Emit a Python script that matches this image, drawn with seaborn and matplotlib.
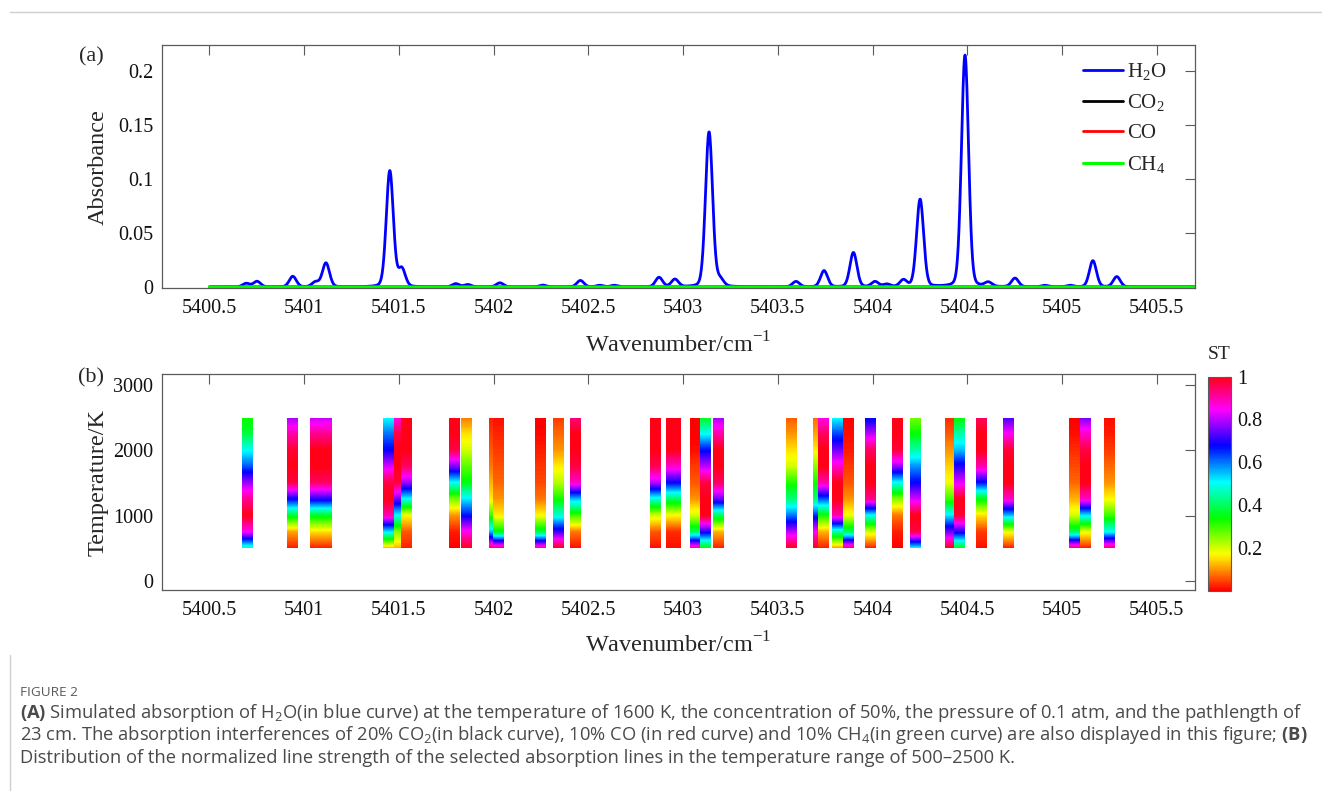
import numpy as np
import matplotlib
matplotlib.use("Agg")
import matplotlib.pyplot as plt
import seaborn as sns
from matplotlib.patches import Rectangle
from matplotlib.lines import Line2D
from matplotlib.cm import ScalarMappable
from matplotlib.colors import Normalize

# ---------------- panel (a): simulated absorbance ----------------
spectrum_start = 5400.5
spectrum_stop = 5405.75

h2o_line_centers = [5400.694, 5400.751, 5400.940, 5401.060, 5401.115, 5401.452, 5401.515,
                    5401.800, 5401.864, 5402.033, 5402.260, 5402.458, 5402.560, 5402.637,
                    5402.873, 5402.957, 5403.137, 5403.195, 5403.596, 5403.744, 5403.899,
                    5404.013, 5404.075, 5404.163, 5404.251, 5404.488, 5404.611, 5404.752,
                    5404.910, 5405.043, 5405.163, 5405.289]
h2o_peak_absorbance = [0.0033, 0.0052, 0.0098, 0.0045, 0.0222, 0.1075, 0.0165,
                       0.0030, 0.0022, 0.0038, 0.0017, 0.0060, 0.0015, 0.0015,
                       0.0088, 0.0070, 0.1435, 0.0065, 0.0050, 0.0150, 0.0318,
                       0.0048, 0.0024, 0.0062, 0.0810, 0.2145, 0.0038, 0.0080,
                       0.0014, 0.0014, 0.0243, 0.0095]
co2_line_centers, co2_peak_absorbance = [], []
co_line_centers, co_peak_absorbance = [], []
ch4_line_centers, ch4_peak_absorbance = [], []

species_labels = [r"$\mathregular{H_2O}$", r"$\mathregular{CO_2}$", "CO", r"$\mathregular{CH_4}$"]
species_colors = ["#0000ff", "#000000", "#ff0000", "#00ff00"]

# ---------------- panel (b): normalized line strength ----------------
st_line_centers = [5400.700, 5400.936, 5401.059, 5401.116, 5401.445, 5401.504, 5401.542,
                   5401.794, 5401.855, 5402.005, 5402.028, 5402.245, 5402.343, 5402.434,
                   5402.856, 5402.937, 5402.961, 5403.064, 5403.117, 5403.188, 5403.571,
                   5403.716, 5403.739, 5403.815, 5403.874, 5403.989, 5404.134, 5404.225,
                   5404.413, 5404.459, 5404.575, 5404.719, 5405.068, 5405.125, 5405.252]
temperature_nodes = [500, 750, 1000, 1250, 1500, 1750, 2000, 2250, 2500]
st_500 = [0.45, 0.02, 0.02, 0.02, 0.12, 0.12, 0.02, 0.00, 1.00, 0.95, 0.95, 0.92, 1.00, 0.01,
          0.01, 0.01, 0.01, 0.92, 0.33, 0.02, 1.00, 1.00, 0.02, 0.10, 0.95, 0.02, 0.00, 0.50,
          1.00, 0.35, 0.01, 0.02, 0.95, 0.02, 0.95]
st_750 = [0.85, 0.11, 0.15, 0.15, 0.52, 0.25, 0.06, 0.02, 0.86, 0.55, 0.35, 0.38, 0.72, 0.08,
          0.06, 0.03, 0.03, 0.40, 0.70, 0.12, 0.80, 0.85, 0.12, 0.45, 0.40, 0.20, 0.02, 0.97,
          0.75, 0.70, 0.04, 0.18, 0.40, 0.18, 0.50]
st_1000 = [1.00, 0.37, 0.36, 0.36, 0.90, 0.50, 0.17, 0.10, 0.67, 0.30, 0.16, 0.17, 0.48, 0.30,
           0.20, 0.17, 0.17, 0.20, 1.00, 0.40, 0.60, 0.65, 0.33, 0.90, 0.18, 0.50, 0.08, 1.00,
           0.52, 0.98, 0.15, 0.55, 0.20, 0.52, 0.30]
st_1250 = [0.92, 0.68, 0.70, 0.70, 1.00, 0.75, 0.50, 0.26, 0.52, 0.16, 0.10, 0.08, 0.33, 0.55,
           0.48, 0.40, 0.40, 0.10, 1.00, 0.75, 0.42, 0.42, 0.62, 1.00, 0.10, 0.92, 0.25, 0.82,
           0.30, 1.00, 0.35, 0.88, 0.12, 0.88, 0.17]
st_1500 = [0.78, 0.97, 0.95, 0.95, 0.97, 0.97, 0.78, 0.50, 0.35, 0.12, 0.07, 0.05, 0.22, 0.88,
           0.80, 0.68, 0.68, 0.06, 0.97, 0.95, 0.32, 0.33, 0.90, 1.00, 0.06, 1.00, 0.50, 0.68,
           0.18, 0.83, 0.67, 1.00, 0.07, 1.00, 0.10]
st_1750 = [0.62, 1.00, 1.00, 1.00, 0.82, 1.00, 0.95, 0.76, 0.28, 0.08, 0.055, 0.035, 0.16, 0.97,
           0.96, 0.88, 0.88, 0.04, 0.80, 1.00, 0.20, 0.25, 1.00, 0.88, 0.04, 1.00, 0.78, 0.58,
           0.14, 0.70, 0.90, 1.00, 0.05, 1.00, 0.07]
st_2000 = [0.50, 0.98, 1.00, 1.00, 0.68, 1.00, 1.00, 0.97, 0.20, 0.06, 0.04, 0.02, 0.10, 1.00,
           1.00, 1.00, 1.00, 0.01, 0.67, 1.00, 0.15, 0.16, 1.00, 0.75, 0.02, 0.95, 0.98, 0.45,
           0.10, 0.55, 1.00, 0.98, 0.03, 0.97, 0.04]
st_2250 = [0.38, 0.90, 0.92, 0.92, 0.60, 0.97, 1.00, 1.00, 0.15, 0.04, 0.025, 0.005, 0.07, 1.00,
           1.00, 1.00, 1.00, 0.00, 0.50, 0.90, 0.10, 0.11, 0.95, 0.63, 0.01, 0.80, 1.00, 0.34,
           0.06, 0.45, 1.00, 0.85, 0.01, 0.88, 0.02]
st_2500 = [0.33, 0.78, 0.80, 0.80, 0.50, 0.85, 1.00, 1.00, 0.08, 0.02, 0.01, 0.00, 0.04, 0.93,
           1.00, 1.00, 1.00, 0.00, 0.35, 0.78, 0.06, 0.07, 0.85, 0.50, 0.00, 0.66, 1.00, 0.26,
           0.03, 0.33, 0.95, 0.72, 0.00, 0.75, 0.01]

x_ticks = [5400.5, 5401, 5401.5, 5402, 5402.5, 5403, 5403.5, 5404, 5404.5, 5405, 5405.5]
x_tick_labels = ["5400.5", "5401", "5401.5", "5402", "5402.5", "5403", "5403.5",
                 "5404", "5404.5", "5405", "5405.5"]
abs_ticks = [0, 0.05, 0.1, 0.15, 0.2]
abs_tick_labels = ["0", "0.05", "0.1", "0.15", "0.2"]
temp_ticks = [0, 1000, 2000, 3000]
cbar_ticks = [0.2, 0.4, 0.6, 0.8, 1]
cbar_tick_labels = ["0.2", "0.4", "0.6", "0.8", "1"]

caption_title = "FIGURE 2"
caption_lines = [
    r"$\mathbf{(A)}$ Simulated absorption of H$\mathregular{_2}$O(in blue curve) at the temperature of 1600 K, the concentration of 50%, the pressure of 0.1 atm, and the pathlength of",
    r"23 cm. The absorption interferences of 20% CO$\mathregular{_2}$(in black curve), 10% CO (in red curve) and 10% CH$\mathregular{_4}$(in green curve) are also displayed in this figure; $\mathbf{(B)}$",
    r"Distribution of the normalized line strength of the selected absorption lines in the temperature range of 500–2500 K.",
]

# ---------------- style ----------------
sns.set_style("white")
plt.rcParams["font.family"] = ["Liberation Serif", "DejaVu Serif"]
plt.rcParams["mathtext.fontset"] = "custom"
plt.rcParams["mathtext.rm"] = "Liberation Serif"
plt.rcParams["mathtext.bf"] = "Open Sans:bold"
spine_c = "#5a5a5a"
tick_fs = 14.5
label_fs = 17.5

W, H = 1322, 791
fig = plt.figure(figsize=(W / 100, H / 100), dpi=100)


def px_axes(left, top, right, bottom):
    return [left / W, 1 - bottom / H, (right - left) / W, (bottom - top) / H]


ax1 = fig.add_axes(px_axes(161.7, 45, 1195, 288.3))
ax2 = fig.add_axes(px_axes(161.7, 374.3, 1195, 590))
cax = fig.add_axes(px_axes(1208.3, 376.7, 1230.7, 590.7))

xlim = (5400.248, 5405.702)

# ---- panel (a)
wn = np.arange(spectrum_start, spectrum_stop, 0.002)
hwhm, eta = 0.022, 0.15


def spectrum(centers, peaks):
    y = np.zeros_like(wn)
    for c, p in zip(centers, peaks):
        d = (wn - c) / hwhm
        y += p * ((1 - eta) * np.exp(-np.log(2) * d ** 2) + eta / (1 + d ** 2))
    return y


curves = [spectrum(h2o_line_centers, h2o_peak_absorbance),
          spectrum(co2_line_centers, co2_peak_absorbance),
          spectrum(co_line_centers, co_peak_absorbance),
          spectrum(ch4_line_centers, ch4_peak_absorbance)]
widths = [2.0, 2.0, 2.0, 2.2]
for y, lab, col, lw in zip(curves, species_labels, species_colors, widths):
    sns.lineplot(x=wn, y=y, ax=ax1, color=col, lw=lw, label=lab, estimator=None, sort=False)

ax1.set_xlim(*xlim)
ax1.set_ylim(-0.0012, 0.224)
ax1.set_xticks(x_ticks)
ax1.set_xticklabels(x_tick_labels)
ax1.set_yticks(abs_ticks)
ax1.set_yticklabels(abs_tick_labels)
ax1.set_xlabel(r"Wavenumber/cm$^{\mathregular{-1}}$", fontsize=label_fs)
ax1.set_ylabel("Absorbance", fontsize=label_fs)
leg = ax1.legend(loc="upper left", bbox_to_anchor=((1083 - 161.7) / 1033.3, (288.3 - 61) / 243.3),
                 frameon=False, fontsize=15, handlelength=1.9, handletextpad=0.2,
                 borderpad=0, borderaxespad=0, labelspacing=0.5)

# ---- panel (b)
st_matrix = np.array([st_500, st_750, st_1000, st_1250, st_1500, st_1750, st_2000, st_2250, st_2500])
bar_width = 0.058
half = bar_width / 2
step = temperature_nodes[1] - temperature_nodes[0]
for i, c in enumerate(st_line_centers):
    im = ax2.imshow(st_matrix[:, i:i + 1], origin="lower", cmap="hsv", vmin=0, vmax=1,
                    extent=[c - half, c + half, temperature_nodes[0] - step / 2,
                            temperature_nodes[-1] + step / 2],
                    aspect="auto", interpolation="bilinear", interpolation_stage="data", zorder=2)
    clip = Rectangle((c - half, temperature_nodes[0]), bar_width,
                     temperature_nodes[-1] - temperature_nodes[0], transform=ax2.transData)
    im.set_clip_path(clip)

ax2.set_xlim(*xlim)
ax2.set_ylim(-138, 3164)
ax2.set_xticks(x_ticks)
ax2.set_xticklabels(x_tick_labels)
ax2.set_yticks(temp_ticks)
ax2.set_xlabel(r"Wavenumber/cm$^{\mathregular{-1}}$", fontsize=label_fs)
ax2.set_ylabel("Temperature/K", fontsize=label_fs)

for ax in (ax1, ax2):
    for s in ax.spines.values():
        s.set_visible(True)
        s.set_color(spine_c)
        s.set_linewidth(0.9)
    ax.tick_params(direction="in", top=True, right=True, length=7.5, width=0.8,
                   color=spine_c, labelsize=tick_fs, labelcolor="#111111")
    ax.tick_params(axis="x", pad=8)
    ax.tick_params(axis="y", pad=6)
    ax.grid(False)

ax1.xaxis.set_label_coords(0.5, (288.3 - 345) / 243.3)
ax1.xaxis.label.set_va("center")
ax1.yaxis.set_label_coords((98 - 161.7) / 1033.3, 0.5)
ax1.yaxis.label.set_va("center")
ax2.xaxis.set_label_coords(0.5, (590 - 645) / 215.7)
ax2.xaxis.label.set_va("center")
ax2.yaxis.set_label_coords((98 - 161.7) / 1033.3, 0.5)
ax2.yaxis.label.set_va("center")

# colorbar
cb = fig.colorbar(ScalarMappable(norm=Normalize(0, 1), cmap="hsv"), cax=cax, ticks=cbar_ticks)
cb.ax.set_yticklabels(cbar_tick_labels)
cb.outline.set_edgecolor(spine_c)
cb.outline.set_linewidth(0.8)
cax.tick_params(direction="in", length=4, width=0.8, color=spine_c, labelsize=tick_fs, pad=5,
                labelcolor="#111111")
fig.text(1219 / W, 1 - 355 / H, "ST", ha="center", va="center", fontsize=14)

# panel tags
fig.text(91 / W, 1 - 57 / H, "(a)", ha="center", va="center", fontsize=16)
fig.text(91 / W, 1 - 378 / H, "(b)", ha="center", va="center", fontsize=16)

# page frame lines
fig.add_artist(Line2D([10 / W, 1], [1 - 12 / H, 1 - 12 / H], color="#cfcfcf", lw=1,
                      transform=fig.transFigure))
fig.add_artist(Line2D([10 / W, 10 / W], [1 - 655 / H, 0], color="#cfcfcf", lw=1,
                      transform=fig.transFigure))

# caption
fig.text(20 / W, 1 - 692 / H, caption_title, ha="left", va="center", fontsize=9.7,
         family=["Open Sans", "DejaVu Sans"], color="#5a5a5a")
for k, line in enumerate(caption_lines):
    fig.text(20 / W, 1 - (713 + 22.5 * k) / H, line, ha="left", va="center", fontsize=13.2,
             family=["Open Sans", "DejaVu Sans"], color="#4a4a4a")

fig.savefig("out.png", dpi=100)
